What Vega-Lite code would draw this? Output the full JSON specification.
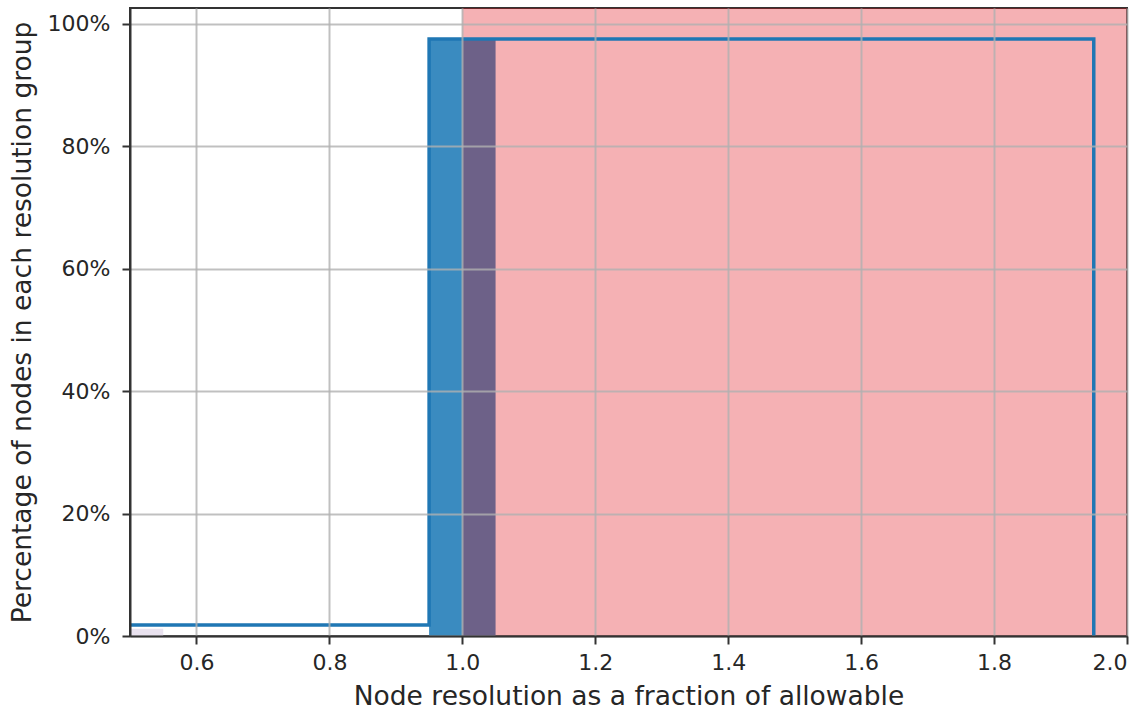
{
  "$schema": "https://vega.github.io/schema/vega-lite/v6.json",
  "width": 997,
  "height": 628,
  "autosize": "none",
  "padding": {"left": 130, "top": 8, "right": 19, "bottom": 77},
  "background": "white",
  "config": {
    "view": {"stroke": "#333333", "strokeWidth": 2},
    "font": "DejaVu Sans",
    "axis": {
      "grid": true,
      "gridColor": "#b0b0b0",
      "gridOpacity": 0.8,
      "gridWidth": 2,
      "domainColor": "#333333",
      "domainWidth": 2,
      "tickColor": "#333333",
      "tickWidth": 2,
      "tickSize": 8,
      "labelFont": "DejaVu Sans",
      "labelFontSize": 22,
      "labelColor": "#262626",
      "titleFont": "DejaVu Sans",
      "titleFontSize": 26.5,
      "titleFontWeight": "normal",
      "titleColor": "#262626"
    }
  },
  "datasets": {
    "shade": [{"x1": 1.0, "x2": 2.0}],
    "bars": [
      {"start": 0.5, "end": 0.55, "pct": 0.012, "group": "low"},
      {"start": 0.95, "end": 1.05, "pct": 0.9755, "group": "main"}
    ],
    "step": [
      {"x": 0.5, "y": 0.018},
      {"x": 0.95, "y": 0.9755},
      {"x": 1.95, "y": 0.0}
    ]
  },
  "layer": [
    {
      "data": {"name": "bars"},
      "mark": {"type": "rect", "clip": true},
      "encoding": {
        "x": {
          "field": "start",
          "type": "quantitative",
          "scale": {"domain": [0.5, 2.0], "nice": false, "zero": false},
          "axis": {
            "zindex": 1,
            "values": [0.6, 0.8, 1.0, 1.2, 1.4, 1.6, 1.8, 2.0],
            "format": ".1f",
            "labelPadding": 8,
            "title": "Node resolution as a fraction of allowable",
            "titlePadding": 10
          }
        },
        "x2": {"field": "end"},
        "y": {
          "field": "pct",
          "type": "quantitative",
          "stack": null,
          "scale": {"domain": [0, 1.026], "nice": false},
          "axis": {
            "zindex": 1,
            "values": [0, 0.2, 0.4, 0.6, 0.8, 1.0],
            "format": ".0%",
            "labelPadding": 12,
            "title": "Percentage of nodes in each resolution group",
            "titlePadding": 11
          }
        },
        "y2": {"datum": 0},
        "color": {
          "field": "group",
          "type": "nominal",
          "scale": {"domain": ["low", "main"], "range": ["#e9e2ef", "#3a8bc0"]},
          "legend": null
        }
      }
    },
    {
      "data": {"name": "shade"},
      "mark": {"type": "rect", "color": "#df040e", "opacity": 0.31, "clip": true},
      "encoding": {
        "x": {"field": "x1", "type": "quantitative"},
        "x2": {"field": "x2"}
      }
    },
    {
      "data": {"name": "step"},
      "mark": {"type": "line", "interpolate": "step-after", "color": "#1f77b4", "strokeWidth": 3.5, "clip": true},
      "encoding": {
        "x": {"field": "x", "type": "quantitative"},
        "y": {"field": "y", "type": "quantitative"}
      }
    }
  ]
}
